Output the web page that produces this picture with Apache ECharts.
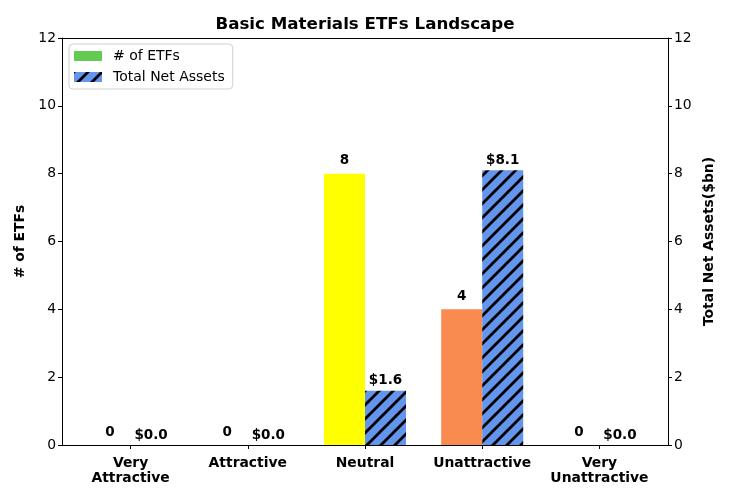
<!DOCTYPE html>
<html>
<head>
<meta charset="utf-8">
<script src="https://cdn.jsdelivr.net/npm/echarts@6/dist/echarts.min.js"></script>
<style>html,body{margin:0;padding:0;background:#fff}#c{width:730px;height:500px}</style>
</head>
<body>
<div id="c"></div>
<script>
var categories = ['Very\nAttractive', 'Attractive', 'Neutral', 'Unattractive', 'Very\nUnattractive'];
var etfCounts = [0, 0, 8, 4, 0];
var netAssets = [0.0, 0.0, 1.6, 8.1, 0.0];
var etfColors = ['#63CC50', '#63CC50', '#FFFF00', '#F98A50', '#63CC50'];
var yTicks = [0, 2, 4, 6, 8, 10, 12];

var FONT = 'DejaVu Sans';
var catPos = categories.map(function (c, i) { return i; });

function makeHatch() {
  var s = 14;
  var cv = document.createElement('canvas');
  cv.width = s; cv.height = s;
  var ctx = cv.getContext('2d');
  ctx.fillStyle = '#6495ED';
  ctx.fillRect(0, 0, s, s);
  ctx.strokeStyle = '#000';
  ctx.lineWidth = 2.8;
  ctx.beginPath();
  ctx.moveTo(-s, s); ctx.lineTo(s, -s);
  ctx.moveTo(0, 2 * s); ctx.lineTo(2 * s, 0);
  ctx.moveTo(0, s); ctx.lineTo(s, 0);
  ctx.stroke();
  return cv;
}
var hatch = makeHatch();

var chart = echarts.init(document.getElementById('c'), null, {renderer: 'canvas'});

var etfData = etfCounts.map(function (v, i) {
  return {value: [catPos[i], v], itemStyle: {color: etfColors[i]}};
});
var tnaData = netAssets.map(function (v, i) {
  return {value: [catPos[i], v]};
});

var xMin = -0.585, xMax = categories.length - 1 + 0.585;

var yAxisCommon = {
  type: 'value', min: yTicks[0], max: yTicks[yTicks.length - 1], interval: 2,
  axisLine: {show: true, onZero: false, lineStyle: {color: '#000', width: 1}},
  axisTick: {show: true, length: 4, lineStyle: {color: '#000'}},
  axisLabel: {color: '#000', fontFamily: FONT, fontSize: 13.9, margin: 6},
  splitLine: {show: false},
  nameLocation: 'middle',
  nameTextStyle: {color: '#000', fontFamily: FONT, fontSize: 13.9, fontWeight: 'bold'}
};

chart.setOption({
  animation: false,
  backgroundColor: '#fff',
  title: {
    text: 'Basic Materials ETFs Landscape', left: 'center', top: 11,
    textStyle: {color: '#000', fontFamily: FONT, fontSize: 16.7, fontWeight: 'bold'}
  },
  legend: {
    orient: 'vertical', left: 69, top: 44,
    padding: [5, 8, 5, 5],
    itemGap: 7, itemWidth: 28, itemHeight: 10,
    borderColor: '#d0d0d0', borderWidth: 1, borderRadius: 4,
    backgroundColor: 'rgba(255,255,255,0.8)',
    textStyle: {color: '#000', fontFamily: FONT, fontSize: 14, padding: [0, 0, 0, 6]},
    data: [
      {name: '# of ETFs', icon: 'rect', itemStyle: {color: '#63CC50'}},
      {name: 'Total Net Assets', icon: 'rect'}
    ]
  },
  grid: {left: 62, right: 62, top: 38, bottom: 55, containLabel: false},
  xAxis: [{
    type: 'value', min: xMin, max: xMax,
    splitLine: {show: false},
    axisLine: {show: true, onZero: false, lineStyle: {color: '#000'}},
    axisTick: {show: true, length: 4, lineStyle: {color: '#000'}, customValues: catPos},
    axisLabel: {color: '#000', fontFamily: FONT, fontSize: 13.9, fontWeight: 'bold', margin: 11,
      lineHeight: 15, customValues: catPos,
      formatter: function (v) { return categories[Math.round(v)]; }}
  }, {
    type: 'value', min: xMin, max: xMax, position: 'top',
    splitLine: {show: false},
    axisLine: {show: true, onZero: false, lineStyle: {color: '#000'}},
    axisTick: {show: false}, axisLabel: {show: false}
  }],
  yAxis: [
    Object.assign({}, yAxisCommon, {position: 'left', name: '# of ETFs', nameGap: 34}),
    Object.assign({}, yAxisCommon, {position: 'right', name: 'Total Net Assets($bn)', nameGap: 32,
      nameRotate: 90})
  ],
  series: [{
    name: '# of ETFs', type: 'bar', xAxisIndex: 0, yAxisIndex: 0,
    data: etfData, barWidth: 41, barGap: '0%',
    itemStyle: {color: '#63CC50'},
    label: {show: true, position: 'top', distance: 6, color: '#000', fontFamily: FONT,
      fontSize: 13.5, fontWeight: 'bold', formatter: function (p) { return String(p.value[1]); }}
  }, {
    name: 'Total Net Assets', type: 'bar', xAxisIndex: 0, yAxisIndex: 1,
    data: tnaData, barWidth: 41, barGap: '0%',
    itemStyle: {color: {image: hatch, repeat: 'repeat'}},
    label: {show: true, position: 'top', distance: 3, color: '#000', fontFamily: FONT,
      fontSize: 13.5, fontWeight: 'bold', formatter: function (p) { return '$' + p.value[1].toFixed(1); }}
  }]
});
</script>
</body>
</html>
